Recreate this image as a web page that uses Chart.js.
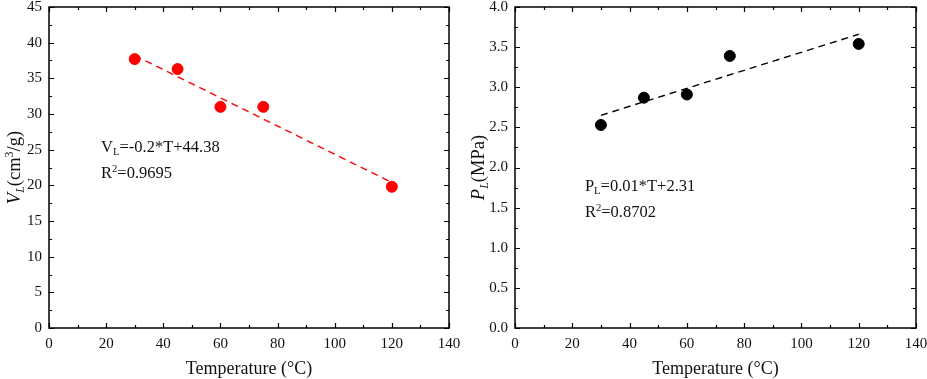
<!DOCTYPE html>
<html>
<head>
<meta charset="utf-8">
<script src="https://cdn.jsdelivr.net/npm/chart.js@4.4.0/dist/chart.umd.min.js"></script>
<style>
  html, body { margin: 0; padding: 0; background: #fff; }
  #wrap { position: relative; width: 927px; height: 379px; }
  #leftChart { position: absolute; left: 0; top: 0; }
  #rightChart { position: absolute; left: 463px; top: 0; }
</style>
</head>
<body>
<div id="wrap">
  <canvas id="leftChart" width="463" height="379"></canvas>
  <canvas id="rightChart" width="464" height="379"></canvas>
</div>
<script>
// measured data
var temps = [30, 45, 60, 75, 120];
var vlValues = [37.7, 36.3, 31.0, 31.0, 19.8];
var plValues = [2.53, 2.87, 2.91, 3.39, 3.54];

// fitted lines (end points)
var fitTemps = [30, 120];
var vlFit = [38.2, 20.4];
var plFit = [2.65, 3.66];

var SERIF = "'Liberation Serif', 'Times New Roman', serif";

function toPoints(xs, ys) {
    var out = [];
    for (var i = 0; i < xs.length; i++) {
        out.push({ x: xs[i], y: ys[i] });
    }
    return out;
}

// draw text with italic / sub / sup pieces
function richWidth(ctx, parts, size) {
    var w = 0;
    for (var i = 0; i < parts.length; i++) {
        var p = parts[i];
        var s = (p.sub || p.sup) ? size * 0.65 : size;
        ctx.font = (p.italic ? 'italic ' : '') + s + 'px ' + SERIF;
        w += ctx.measureText(p.t).width;
    }
    return w;
}

function drawRich(ctx, parts, x, y, size) {
    var cx = x;
    for (var i = 0; i < parts.length; i++) {
        var p = parts[i];
        var s = (p.sub || p.sup) ? size * 0.65 : size;
        var dy = 0;
        if (p.sub) dy = size * 0.22;
        if (p.sup) dy = -size * 0.38;
        ctx.font = (p.italic ? 'italic ' : '') + s + 'px ' + SERIF;
        ctx.fillText(p.t, cx, y + dy);
        cx += ctx.measureText(p.t).width;
    }
}

var framePlugin = {
    id: 'frame',
    afterDraw: function(chart, args, opts) {
        var ctx = chart.ctx;
        var a = chart.chartArea;
        var xs = chart.scales.x;
        var ys = chart.scales.y;
        ctx.save();
        ctx.strokeStyle = '#000';
        ctx.lineWidth = 1.5;
        ctx.strokeRect(a.left, a.top, a.right - a.left, a.bottom - a.top);

        // inward ticks on all four sides
        ctx.lineWidth = 1.2;
        ctx.beginPath();
        var v, px, len, major;
        for (v = xs.min; v <= xs.max + 1e-9; v += opts.xMinor) {
            major = Math.abs(v / opts.xMajor - Math.round(v / opts.xMajor)) < 1e-6;
            len = major ? 5 : 3;
            px = Math.round(xs.getPixelForValue(v)) + 0.5;
            ctx.moveTo(px, a.bottom);
            ctx.lineTo(px, a.bottom - len);
            ctx.moveTo(px, a.top);
            ctx.lineTo(px, a.top + len);
        }
        for (v = ys.min; v <= ys.max + 1e-9; v += opts.yMinor) {
            major = Math.abs(v / opts.yMajor - Math.round(v / opts.yMajor)) < 1e-6;
            len = major ? 5 : 3;
            px = Math.round(ys.getPixelForValue(v)) + 0.5;
            ctx.moveTo(a.left, px);
            ctx.lineTo(a.left + len, px);
            ctx.moveTo(a.right, px);
            ctx.lineTo(a.right - len, px);
        }
        ctx.stroke();

        ctx.fillStyle = '#111';
        ctx.textBaseline = 'alphabetic';

        // x title
        var xt = [{ t: 'Temperature (\u00B0C)' }];
        var w = richWidth(ctx, xt, 18);
        drawRich(ctx, xt, (a.left + a.right) / 2 - w / 2, 374, 18);

        // y title, rotated
        ctx.save();
        ctx.translate(opts.yTitleX, (a.top + a.bottom) / 2);
        ctx.rotate(-Math.PI / 2);
        w = richWidth(ctx, opts.yTitle, 18.5);
        drawRich(ctx, opts.yTitle, -w / 2, 0, 18.5);
        ctx.restore();

        // equation text
        var ex = xs.getPixelForValue(opts.noteAt[0]);
        var ey = ys.getPixelForValue(opts.noteAt[1]);
        drawRich(ctx, opts.note1, ex, ey, 16.5);
        drawRich(ctx, opts.note2, ex, ey + 26, 16.5);
        ctx.restore();
    }
};

function makeChart(id, cfg) {
    var ctx = document.getElementById(id).getContext('2d');
    return new Chart(ctx, {
        type: 'scatter',
        data: {
            datasets: [{
                data: toPoints(temps, cfg.values),
                backgroundColor: cfg.color,
                borderColor: cfg.color,
                pointRadius: 5.5,
                pointHoverRadius: 5.5,
                showLine: false
            }, {
                data: toPoints(fitTemps, cfg.fit),
                borderColor: cfg.color,
                borderWidth: 1.4,
                borderDash: [7, 5],
                pointRadius: 0,
                showLine: true,
                fill: false
            }]
        },
        options: {
            responsive: false,
            animation: false,
            devicePixelRatio: 1,
            layout: { padding: { top: 7, right: cfg.padRight, left: 0, bottom: 0 } },
            plugins: {
                legend: { display: false },
                tooltip: { enabled: false },
                frame: cfg.frame
            },
            scales: {
                x: {
                    type: 'linear',
                    min: 0,
                    max: 140,
                    grid: { display: false, drawTicks: false },
                    border: { display: false },
                    ticks: {
                        stepSize: 20,
                        padding: 7,
                        color: '#111',
                        font: { family: SERIF, size: 15 }
                    },
                    afterFit: function(scale) {
                        scale.height = 51;
                        scale.paddingLeft = 0;
                        scale.paddingRight = 0;
                    }
                },
                y: {
                    type: 'linear',
                    min: cfg.yMin,
                    max: cfg.yMax,
                    grid: { display: false, drawTicks: false },
                    border: { display: false },
                    ticks: {
                        stepSize: cfg.yStep,
                        padding: 7,
                        color: '#111',
                        font: { family: SERIF, size: 15 },
                        callback: cfg.yFormat
                    },
                    afterFit: function(scale) {
                        scale.width = cfg.yWidth;
                        scale.paddingTop = 0;
                        scale.paddingBottom = 0;
                    }
                }
            }
        },
        plugins: [framePlugin]
    });
}

makeChart('leftChart', {
    values: vlValues,
    fit: vlFit,
    color: '#ff0000',
    yMin: 0,
    yMax: 45,
    yStep: 5,
    yWidth: 49,
    padRight: 14,
    yFormat: function(v) { return v; },
    frame: {
        xMajor: 20, xMinor: 10, yMajor: 5, yMinor: 2.5,
        yTitleX: 20,
        yTitle: [{ t: 'V', italic: true }, { t: 'L', italic: true, sub: true }, { t: '(cm' }, { t: '3', sup: true }, { t: '/g)' }],
        noteAt: [18.2, 24.7],
        note1: [{ t: 'V' }, { t: 'L', sub: true }, { t: '=-0.2*T+44.38' }],
        note2: [{ t: 'R' }, { t: '2', sup: true }, { t: '=0.9695' }]
    }
});

makeChart('rightChart', {
    values: plValues,
    fit: plFit,
    color: '#000000',
    yMin: 0,
    yMax: 4,
    yStep: 0.5,
    yWidth: 52,
    padRight: 11,
    yFormat: function(v) { return Number(v).toFixed(1); },
    frame: {
        xMajor: 20, xMinor: 10, yMajor: 0.5, yMinor: 0.25,
        yTitleX: 21,
        yTitle: [{ t: 'P', italic: true }, { t: 'L', italic: true, sub: true }, { t: '(MPa)' }],
        noteAt: [24.4, 1.71],
        note1: [{ t: 'P' }, { t: 'L', sub: true }, { t: '=0.01*T+2.31' }],
        note2: [{ t: 'R' }, { t: '2', sup: true }, { t: '=0.8702' }]
    }
});
</script>
</body>
</html>
